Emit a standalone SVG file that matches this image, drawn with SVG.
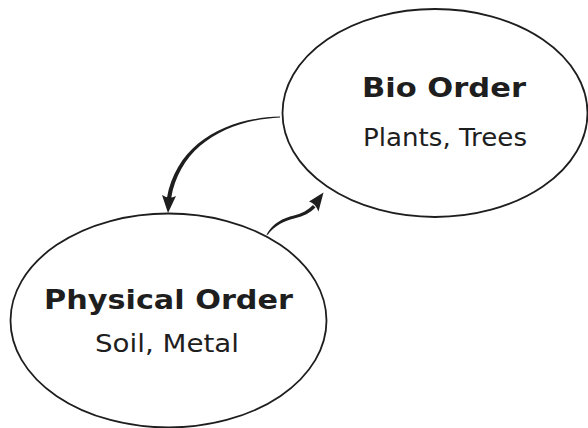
<svg xmlns="http://www.w3.org/2000/svg" width="588" height="428" viewBox="0 0 588 428">
  <style>
    .shape { fill: #ffffff; stroke: #1e1e1e; stroke-width: 1.8; }
    .title { font-family: "DejaVu Sans", "Liberation Sans", sans-serif; font-weight: 700; fill: #1e1e1e; text-anchor: middle; }
    .sub { font-family: "DejaVu Sans", "Liberation Sans", sans-serif; font-weight: 400; fill: #1e1e1e; text-anchor: middle; }
    .ink { fill: #1e1e1e; stroke: none; }
  </style>
  <rect width="588" height="428" fill="#ffffff"/>

  <g id="bio-order">
    <ellipse class="shape" cx="435" cy="113" rx="152.5" ry="104"/>
    <text class="title" x="444" y="97" font-size="27" textLength="164" lengthAdjust="spacingAndGlyphs">Bio Order</text>
    <text class="sub" x="445" y="146" font-size="24" textLength="164" lengthAdjust="spacingAndGlyphs">Plants, Trees</text>
  </g>

  <g id="physical-order">
    <ellipse class="shape" cx="168.5" cy="320.5" rx="158" ry="107"/>
    <text class="title" x="168.5" y="309" font-size="26" textLength="249" lengthAdjust="spacingAndGlyphs">Physical Order</text>
    <text class="sub" x="167" y="352" font-size="24" textLength="144" lengthAdjust="spacingAndGlyphs">Soil, Metal</text>
  </g>

  <g id="connectors">
    <!-- Bio Order to Physical Order: tapered curve with arrowhead -->
    <path class="ink" d="M280,116.6 C226,117.8 177,143 166.9,198 L171.1,198.5 C180,146 226,120.2 280,117.4 Z"/>
    <path class="ink" d="M168,213 L162,195 Q169,199.5 176,196 Z"/>
    <!-- Physical Order to Bio Order: tapered curve with arrowhead -->
    <path class="ink" d="M266.5,234.5 C273,223 283,218 294,215.5 C302,213.5 308,210 313,205 L315.5,207.5 C310,212.8 303.5,216.3 295,218.3 C285,220.7 275,225 267.5,235 Z"/>
    <path class="ink" d="M323.5,192.5 L309,201.5 Q315,203 318.5,211.5 Z"/>
  </g>
</svg>
